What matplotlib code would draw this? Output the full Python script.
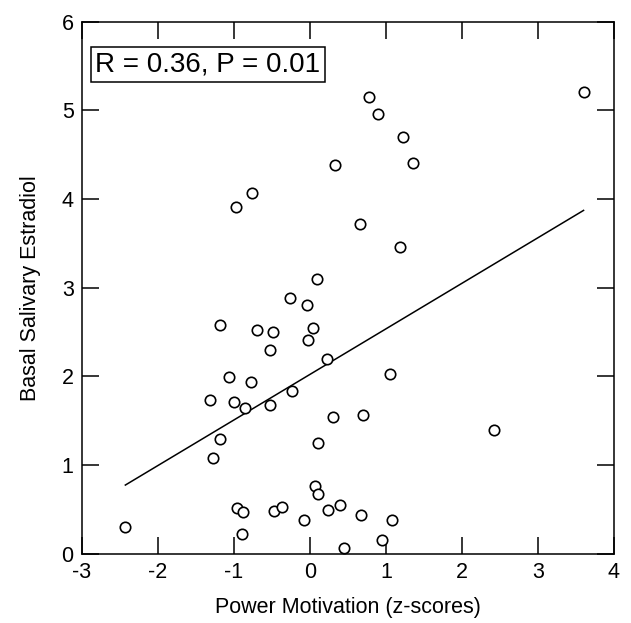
import numpy as np
import matplotlib
matplotlib.use("Agg")
import matplotlib.pyplot as plt

plt.rcParams['font.family'] = ['Liberation Sans', 'DejaVu Sans']
plt.rcParams['axes.unicode_minus'] = False

# power motivation (z-scores) and basal salivary estradiol
power = [0.33, -0.76, -0.98, 0.66, 0.09, -0.26, -0.04, 3.60, 0.78, 0.89,
         1.22, 1.35, 1.18, -1.18, -0.70, -0.49, 0.04, -0.02, -0.53, 0.22,
         -1.06, -0.78, -1.32, -1.00, -0.85, -0.53, -0.24, 0.30, 0.70, -1.18,
         -1.27, 0.10, 0.07, 0.10, -0.96, -0.88, -0.48, -0.37, 0.24, 0.39,
         -0.08, 0.67, -2.43, -0.89, 0.45, 1.05, 2.42, 1.08, 0.95]
estradiol = [4.38, 4.07, 3.91, 3.72, 3.10, 2.88, 2.81, 5.21, 5.15, 4.96,
             4.70, 4.41, 3.46, 2.58, 2.53, 2.50, 2.55, 2.41, 2.30, 2.20,
             1.99, 1.94, 1.74, 1.71, 1.64, 1.68, 1.84, 1.54, 1.57, 1.29,
             1.08, 1.25, 0.77, 0.68, 0.52, 0.47, 0.48, 0.53, 0.49, 0.55,
             0.38, 0.44, 0.30, 0.22, 0.07, 2.03, 1.40, 0.38, 0.16]
stats_text = "R = 0.36, P = 0.01"

x = np.array(power)
y = np.array(estradiol)

fig = plt.figure(figsize=(6.31, 6.23), dpi=100)
ax = fig.add_axes([0.130, 0.111, 0.843, 0.854])

ax.plot(x, y, 'o', mfc='white', mec='black', ms=7.5, mew=1.2, zorder=3)

# least squares line over the range of the data
slope, icpt = np.polyfit(x, y, 1)
xl = np.array([x.min(), x.max()])
ax.plot(xl, icpt + slope*xl, color='black', lw=1.1)

ax.set_xlim(-3, 4)
ax.set_ylim(0, 6)
ax.set_xticks(range(-3, 5))
ax.set_yticks(range(0, 7))
ax.tick_params(direction='in', length=12, width=1.1, top=True, right=True,
               labelsize=15.5, pad=6)
for s in ax.spines.values():
    s.set_linewidth(1.1)

ax.set_xlabel("Power Motivation (z-scores)", fontsize=15.5, labelpad=10)
ax.set_ylabel("Basal Salivary Estradiol", fontsize=15.5, labelpad=15)

ax.text(0.025, 0.944, stats_text, transform=ax.transAxes, fontsize=20,
        va='top', ha='left',
        bbox=dict(boxstyle='square,pad=0.15', fc='white', ec='black', lw=1.1))

fig.savefig("out.png", dpi=100)
